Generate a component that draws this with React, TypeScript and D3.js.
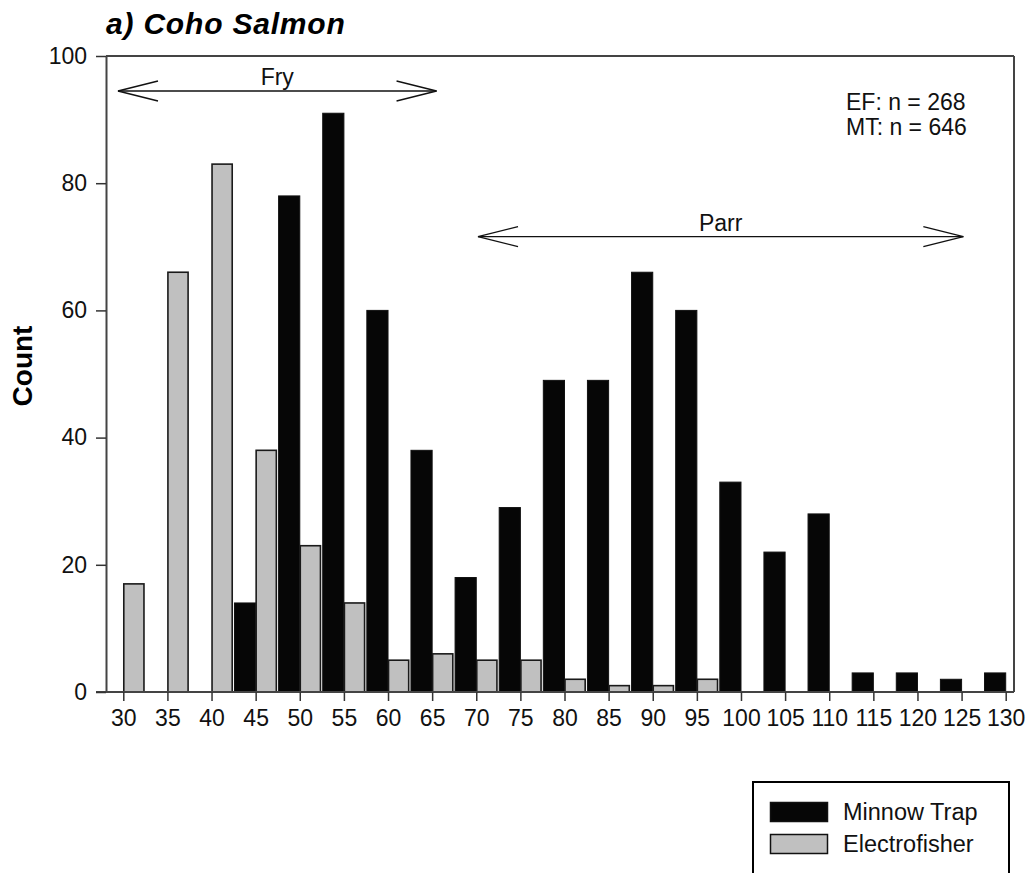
import React, { useEffect, useRef } from 'react';
import * as d3 from 'd3';

// fork length bins (mm)
const bins = [30, 35, 40, 45, 50, 55, 60, 65, 70, 75, 80, 85, 90, 95, 100, 105, 110, 115, 120, 125, 130];
const minnowTrap = [0, 0, 0, 14, 78, 91, 60, 38, 18, 29, 49, 49, 66, 60, 33, 22, 28, 3, 3, 2, 3];
const electrofisher = [17, 66, 83, 38, 23, 14, 5, 6, 5, 5, 2, 1, 1, 2, 0, 0, 0, 0, 0, 0, 0];
const yTicks = [0, 20, 40, 60, 80, 100];
const stages = [
    { label: 'Fry', from: 29.4, to: 65.5, count: 94.5 },
    { label: 'Parr', from: 70.2, to: 125.2, count: 71.6 },
];
const sampleSizes = ['EF: n = 268', 'MT: n = 646'];
const series = [
    { name: 'Minnow Trap', color: '#060606' },
    { name: 'Electrofisher', color: '#c0c0c0' },
];

const width = 1029;
const height = 873;
const marginLeft = 106;
const marginRight = 15;
const marginTop = 56;
const plotBottom = 692;
const font = 'Arial, "Liberation Sans", sans-serif';

const App: React.FC = () => {
    const svgRef = useRef<SVGSVGElement | null>(null);

    useEffect(() => {
        const svg = d3.select(svgRef.current);
        svg.selectAll('*').remove();

        const x = d3.scaleLinear().domain([28.04, 130.94]).range([marginLeft, width - marginRight]);
        const y = d3.scaleLinear().domain([0, 100]).range([plotBottom, marginTop]);
        const bw = (x(35) - x(30)) * 0.48;

        const data = bins.map((b, i) => ({ bin: b, mt: minnowTrap[i], ef: electrofisher[i] }));

        // minnow trap bars (left of tick)
        svg.append('g')
            .selectAll('rect')
            .data(data.filter(d => d.mt > 0))
            .join('rect')
            .attr('x', d => x(d.bin) - bw)
            .attr('y', d => y(d.mt))
            .attr('width', bw)
            .attr('height', d => y(0) - y(d.mt))
            .attr('fill', series[0].color)
            .attr('stroke', '#111')
            .attr('stroke-width', 1);

        // electrofisher bars (right of tick)
        svg.append('g')
            .selectAll('rect')
            .data(data.filter(d => d.ef > 0))
            .join('rect')
            .attr('x', d => x(d.bin) + 0.5)
            .attr('y', d => y(d.ef))
            .attr('width', bw - 1)
            .attr('height', d => y(0) - y(d.ef))
            .attr('fill', series[1].color)
            .attr('stroke', '#1a1a1a')
            .attr('stroke-width', 1.6);

        // frame
        const frameColor = '#444';
        svg.append('line')
            .attr('x1', marginLeft).attr('x2', width - marginRight)
            .attr('y1', marginTop).attr('y2', marginTop)
            .attr('stroke', frameColor).attr('stroke-width', 2);
        svg.append('line')
            .attr('x1', width - marginRight).attr('x2', width - marginRight)
            .attr('y1', marginTop).attr('y2', plotBottom)
            .attr('stroke', frameColor).attr('stroke-width', 2);

        // x axis
        svg.append('g')
            .attr('transform', `translate(0, ${plotBottom})`)
            .call(d3.axisBottom(x).tickValues(bins).tickSize(9).tickPadding(9).tickSizeOuter(0))
            .call(g => g.select('.domain').attr('d', `M${marginLeft - 10},0H${width - marginRight}`)
                .attr('stroke', frameColor).attr('stroke-width', 2))
            .call(g => g.selectAll('.tick line').attr('stroke', '#333').attr('stroke-width', 1.5))
            .call(g => g.selectAll('.tick text')
                .attr('font-size', 23).attr('font-family', font).attr('fill', '#111'));

        // y axis
        svg.append('g')
            .attr('transform', `translate(${marginLeft}, 0)`)
            .call(d3.axisLeft(y).tickValues(yTicks).tickSize(10).tickPadding(9).tickSizeOuter(0))
            .call(g => g.select('.domain').attr('stroke', frameColor).attr('stroke-width', 2))
            .call(g => g.selectAll('.tick line').attr('stroke', '#333').attr('stroke-width', 1.5))
            .call(g => g.selectAll('.tick text')
                .attr('font-size', 23).attr('font-family', font).attr('fill', '#111'));

        // title
        svg.append('text')
            .attr('x', marginLeft)
            .attr('y', 34)
            .attr('font-family', font)
            .attr('font-size', 30)
            .attr('font-weight', 'bold')
            .attr('font-style', 'italic')
            .attr('letter-spacing', 0.8)
            .text('a) Coho Salmon');

        // y label
        svg.append('text')
            .attr('transform', `translate(32, 366) rotate(-90)`)
            .attr('text-anchor', 'middle')
            .attr('font-family', font)
            .attr('font-size', 28)
            .attr('font-weight', 'bold')
            .text('Count');

        // life stage arrows
        const arm = 40;
        const spread = 10;
        stages.forEach(s => {
            const x1 = x(s.from);
            const x2 = x(s.to);
            const yy = y(s.count);
            const g = svg.append('g').attr('stroke', '#111').attr('stroke-width', 1.4).attr('fill', 'none');
            g.append('line').attr('x1', x1).attr('x2', x2).attr('y1', yy).attr('y2', yy);
            g.append('path').attr('d', `M${x1 + arm},${yy - spread}L${x1},${yy}L${x1 + arm},${yy + spread}`);
            g.append('path').attr('d', `M${x2 - arm},${yy - spread}L${x2},${yy}L${x2 - arm},${yy + spread}`);
            svg.append('text')
                .attr('x', (x1 + x2) / 2)
                .attr('y', yy - 6)
                .attr('text-anchor', 'middle')
                .attr('font-family', font)
                .attr('font-size', 23)
                .attr('fill', '#111')
                .text(s.label);
        });

        // sample sizes
        svg.append('g')
            .selectAll('text')
            .data(sampleSizes)
            .join('text')
            .attr('x', 846)
            .attr('y', (_, i) => 110 + i * 25)
            .attr('font-family', font)
            .attr('font-size', 23)
            .attr('fill', '#111')
            .text(d => d);

        // legend
        const legend = svg.append('g');
        legend.append('rect')
            .attr('x', 753).attr('y', 782)
            .attr('width', 256).attr('height', 120)
            .attr('fill', 'white').attr('stroke', '#000').attr('stroke-width', 2);
        series.forEach((s, i) => {
            legend.append('rect')
                .attr('x', 770.5).attr('y', 802.5 + i * 32)
                .attr('width', 57).attr('height', 19)
                .attr('fill', s.color).attr('stroke', '#111').attr('stroke-width', 1.5);
            legend.append('text')
                .attr('x', 843)
                .attr('y', 820 + i * 32)
                .attr('font-family', font)
                .attr('font-size', 23.5)
                .attr('fill', '#111')
                .text(s.name);
        });
    }, []);

    return (
        <svg
            ref={svgRef}
            width={width}
            height={height}
            viewBox={`0 0 ${width} ${height}`}
            style={{ position: 'absolute', left: 0, top: 0, background: 'white' }}
        />
    );
};

export default App;
